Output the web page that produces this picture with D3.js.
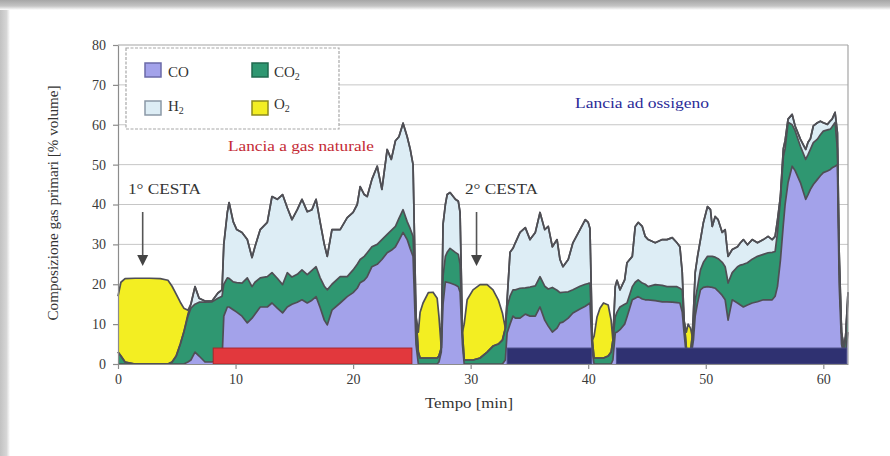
<!DOCTYPE html>
<html>
<head>
<meta charset="utf-8">
<script src="https://cdn.jsdelivr.net/npm/d3@7"></script>
<style>
  body { margin: 0; background: #fff; }
  svg { display: block; }
</style>
</head>
<body>
<svg id="chart" width="890" height="456"></svg>
<script>
// Time axis [min]
const time = [
  // first basket, natural-gas lance
  0,0.25,0.6,1.45,2.7,3.6,4.25,4.6,4.95,5.3,
  5.6,5.95,6.2,6.55,6.9,7.4,8.0,8.5,8.85,9.0,
  9.3,9.45,9.8,10.1,10.55,11.0,11.4,11.65,12.1,12.7,
  13.1,13.55,14.0,14.4,14.8,15.25,15.65,16.1,16.5,16.85,
  17.2,17.55,17.8,18.2,18.9,19.5,20.0,20.35,20.6,20.95,
  21.2,21.6,22.05,22.45,22.9,23.25,23.6,23.9,24.25,24.6,
  24.85,25.1,25.35,25.55,
  // intermediate
  25.7,25.95,26.4,26.8,27.15,27.3,27.5,27.65,27.85,28.0,
  28.25,28.7,28.95,29.1,29.3,29.45,
  // second basket
  29.7,30.2,30.8,31.4,31.9,32.35,32.7,32.95,33.1,33.35,
  33.6,33.8,34.2,34.65,35.05,35.5,35.9,36.3,36.6,36.95,
  37.35,37.6,37.85,38.3,38.7,39.3,39.75,40.0,40.15,40.35,
  40.5,
  // oxygen lance
  40.75,41.0,41.3,41.7,41.95,42.1,42.3,42.45,42.7,43.1,
  43.3,43.75,44.0,44.25,44.6,44.85,45.1,45.7,46.3,46.7,
  47.15,47.55,47.8,48.0,48.15,48.35,48.5,48.7,48.85,48.95,
  49.1,49.3,49.55,49.8,50.15,50.4,50.55,50.8,51.05,51.4,
  51.65,51.8,51.9,52.25,52.7,52.95,53.2,53.55,53.95,54.4,
  54.9,55.3,55.65,55.9,56.1,56.35,56.6,56.75,57.0,57.35,
  57.6,58.05,58.5,58.7,58.9,59.15,59.5,59.75,60.0,60.35,
  60.6,60.75,61.0,61.2,61.35,61.55,61.75,61.9,62.1
];

// Gas composition [% volume]
const co = [
  0,0,0,0,0,0,0,0,0,0,
  0,0.5,1,3,2,0.5,0.5,1,1,12,
  14.3,14.3,13.6,13,12,10.3,11.5,12.5,14.3,14.3,
  15.3,14,12.8,14.3,15,15.5,16.1,15.3,16,16.9,
  14.1,11,9.8,13.5,15.3,16.9,17.9,19,20.4,21,
  21.9,24.4,25,26.2,27.9,28.5,29.4,31,33,31.2,
  29,27,5,0,
  0,0,0,0,0,0.5,3,15,20.6,20.5,
  20.3,19.8,19.4,18,5,0,
  0,0,0,0,0,0,0,1,7.8,10,
  12,11.5,11.5,12.5,12,12,14.3,11,9.5,8,
  9,10.3,10.5,11.5,12.8,13.8,14.5,15,15.3,3,
  0,
  0,0,0,0,0,1,7.8,8,8.6,10,
  11.8,16.1,16.5,16.9,16.3,16.1,16.1,15.9,15.6,15.6,
  15.5,15.4,15.3,13,8,2,1,1,4,6,
  12,15.3,18.6,19.2,19.4,19.3,19.2,19,18.3,17.2,
  16.1,13,11,16.1,15.3,14.8,14.3,14.8,15.3,15.6,
  16.1,16.1,16.1,17,19.4,26,35,40,45.5,49.6,
  48.5,45.5,41.3,42.5,43.8,45,46.3,47.2,48,48.4,
  48.8,49.2,49.6,50,20,5,2,3,8
];

const co2 = [
  3,2,0.5,0,0,0,0,0.5,2,5,
  8,11.5,13,12,13.5,15,15.1,15.5,16,8,
  7.3,7.2,7,7.4,8.3,11.3,7.9,8,7.3,7.6,
  7.6,7.5,7.1,8.6,6.8,7,7.5,7.1,7.5,7.5,
  7.5,8.5,8.8,6.5,6.6,5,5.7,6,5.8,6,
  6,5,5,5,4.6,5,5.1,5.5,5.7,4.5,
  5,5,7,3,
  1.5,1.5,1.5,1.5,1.5,1.5,1,7,6.4,7.5,
  8.7,8.2,8.1,7,3,1,
  1,1,1.5,3,4.5,5,6,8,6.5,7,
  6.6,7.1,7.5,6.6,7.3,7.6,7.6,8.5,9.3,11.2,
  9.5,7.6,7.5,6.6,5.8,5.7,5.5,5.2,5,3,
  1.5,
  1.5,1.5,1.5,2,3,5,4,5,5.7,5,
  3.5,3.3,4,4.2,4,3.9,3.3,4,4.1,3.8,
  3.9,4,3.7,5.6,3,2,2,2,3,3.3,
  4,4.1,5,6.3,7.6,7.7,7.8,7.8,8.1,8.3,
  8.3,9,9.3,6.8,9.1,10,10.7,10.6,11,11.4,
  11.4,11.8,11.9,11.2,13.6,15.3,17,14,15.1,10.4,
  10,9.1,10,10,10,10.5,10.1,10.3,10.4,10.3,
  10.1,10.3,11,3.8,5,3,2,4,8
];

const h2 = [
  0,0,0,0,0,0,0,0,0,0,
  0,0.5,1,4.4,1,0.3,0.2,1.3,1.6,10,
  16.4,19,15.1,13.3,12.7,9.6,7.3,8.9,12.1,13.6,
  19.1,19.8,22.6,16.3,14.4,16.2,17.7,15.8,15.2,16.9,
  13.9,10.5,8.4,13.7,11.8,14.8,14.4,15,18.3,15.5,
  14.1,16.9,19.6,12.6,21.3,17.8,21.5,20.5,21.7,21.3,
  20,18,0,0,
  0,0,0,0,0,0,0,13,13,14.5,
  14,13.3,13.3,13,0,0,
  0,0,0,0,0,0,0,0,1.7,11,
  10.4,11.8,14,15.1,11.9,13.4,16.1,14.2,15.7,10.2,
  12.7,8.3,6.4,8.1,11.8,14.2,16.2,15.3,13.7,0,
  0,
  0,0,0,0,0,0,7.6,8,4.3,6.1,
  10.1,7.6,14,14.4,14.2,12,11.8,10.5,11.5,11.8,
  12.3,11,10.4,4.3,0,0,0,0,0,3.5,
  6.9,7.6,7.6,10,12.5,11.7,7.5,10.2,9.8,7.5,
  9.3,7.4,6.7,5.8,5,5.6,6.2,4.5,4.9,3.4,
  3.7,4.1,3.2,3.8,3,0.7,2,2,0.8,2.6,
  1.2,1.8,2.5,3.1,2.7,4.2,4.1,3.4,2.1,1.4,
  2.1,1.9,2.5,4.2,3,0,0,0,2
];

const o2 = [
  14,18.5,20.9,21.5,21.5,21.4,21,19,15.5,10.5,
  6,1,0,0,0,0,0,0,0,0,
  0,0,0,0,0,0,0,0,0,0,
  0,0,0,0,0,0,0,0,0,0,
  0,0,0,0,0,0,0,0,0,0,
  0,0,0,0,0,0,0,0,0,0,
  0,0,0,5,
  11.5,13.8,16.4,16.5,15,10,0,0,0,0,
  0,0,0,0,0,9,
  15.1,17.6,18.4,16.9,14.1,11.1,6.8,0,0,0,
  0,0,0,0,0,0,0,0,0,0,
  0,0,0,0,0,0,0,0,0,0,
  5.5,
  10.3,12.5,13.8,12.8,8,0,0,0,0,0,
  0,0,0,0,0,0,0,0,0,0,
  0,0,0,0,0,4,7,6,0,0,
  0,0,0,0,0,0,0,0,0,0,
  0,0,0,0,0,0,0,0,0,0,
  0,0,0,0,0,0,0,0,0,0,
  0,0,0,0,0,0,0,0,0,0,
  0,0,0,0,0,0,0,0,0
];

const gases = ["CO", "CO2", "H2", "O2"];
const gasColors = ["#a3a2ea", "#2f9771", "#ddedf5", "#f3ee22"];
const gasBorders = ["#6b6aa8", "#216a4f", "#8a98a6", "#8d8a1c"];

// Lance operating periods [min]
const lanceStart = [8.1, 33.1, 42.4];
const lanceEnd = [25.0, 40.3, 62.0];
const lanceType = ["gas", "oxygen", "oxygen"];

const yTicks = [0, 10, 20, 30, 40, 50, 60, 70, 80];
const xTicks = [0, 10, 20, 30, 40, 50, 60];

const serif = "'Liberation Serif', 'Times New Roman', serif";
const W = 890, H = 456;
const svg = d3.select("#chart");

// page card with soft shadow at top and left
const defs = svg.append("defs");
const gTop = defs.append("linearGradient").attr("id", "shTop").attr("x1", 0).attr("y1", 0).attr("x2", 0).attr("y2", 1);
gTop.append("stop").attr("offset", "0%").attr("stop-color", "#a6a6a6");
gTop.append("stop").attr("offset", "60%").attr("stop-color", "#c4c4c4");
gTop.append("stop").attr("offset", "100%").attr("stop-color", "#ffffff");
const gLeft = defs.append("linearGradient").attr("id", "shLeft").attr("x1", 0).attr("y1", 0).attr("x2", 1).attr("y2", 0);
gLeft.append("stop").attr("offset", "0%").attr("stop-color", "#c2c2c2");
gLeft.append("stop").attr("offset", "65%").attr("stop-color", "#d6d6d6");
gLeft.append("stop").attr("offset", "100%").attr("stop-color", "#ffffff");

svg.append("rect").attr("width", W).attr("height", H).attr("fill", "#fff");
svg.append("rect").attr("x", 0).attr("y", 0).attr("width", 10).attr("height", H).attr("fill", "url(#shLeft)");
svg.append("rect").attr("x", 0).attr("y", 0).attr("width", W).attr("height", 10).attr("fill", "url(#shTop)");

// scales
const x = d3.scaleLinear().domain([0, 62.1]).range([118, 848]);
const y = d3.scaleLinear().domain([0, 80]).range([364, 45]);

// horizontal grid
svg.append("g").selectAll("line")
  .data(yTicks.filter(v => v > 0 && v < 80))
  .join("line")
  .attr("x1", x(0)).attr("x2", x(62.1))
  .attr("y1", d => y(d)).attr("y2", d => y(d))
  .attr("stroke", "#c6c6c6").attr("stroke-width", 1);

// stacked composition
const rows = time.map((t, i) => ({ t, CO: co[i], CO2: co2[i], H2: h2[i], O2: o2[i] }));
const series = d3.stack().keys(gases)(rows);

const area = d3.area()
  .x(d => x(d.data.t))
  .y0(d => y(d[0]))
  .y1(d => y(d[1]));
const topLine = d3.line()
  .x(d => x(d.data.t))
  .y(d => y(d[1]));

const layers = svg.append("g");
layers.selectAll("path.area")
  .data(series)
  .join("path")
  .attr("class", "area")
  .attr("d", area)
  .attr("fill", (d, i) => gasColors[i]);
layers.selectAll("path.edge")
  .data(series)
  .join("path")
  .attr("class", "edge")
  .attr("d", topLine)
  .attr("fill", "none")
  .attr("stroke", "#4f4f55")
  .attr("stroke-width", 1.7)
  .attr("stroke-linejoin", "round");

// lance bars
const barTop = 4;
svg.append("g").selectAll("rect")
  .data(lanceStart.map((s, i) => ({ s, e: lanceEnd[i], type: lanceType[i] })))
  .join("rect")
  .attr("x", d => x(d.s))
  .attr("width", d => x(d.e) - x(d.s))
  .attr("y", y(barTop))
  .attr("height", y(0) - y(barTop))
  .attr("fill", d => d.type === "gas" ? "#e2383d" : "#2f3171")
  .attr("stroke", d => d.type === "gas" ? "#a8262c" : "#4a4c86")
  .attr("stroke-width", 1);

// frame
svg.append("line").attr("x1", x(0)).attr("x2", x(62.1)).attr("y1", y(80)).attr("y2", y(80))
  .attr("stroke", "#a4a4a4").attr("stroke-width", 1.2);
svg.append("line").attr("x1", x(62.1)).attr("x2", x(62.1)).attr("y1", y(80)).attr("y2", y(0))
  .attr("stroke", "#a4a4a4").attr("stroke-width", 1.2);

// axes
const yAxis = svg.append("g")
  .attr("transform", `translate(${x(0)},0)`)
  .call(d3.axisLeft(y).tickValues(yTicks).tickSize(5).tickSizeOuter(0).tickPadding(7));
const xAxis = svg.append("g")
  .attr("transform", `translate(0,${y(0)})`)
  .call(d3.axisBottom(x).tickValues(xTicks).tickSize(5).tickSizeOuter(0).tickPadding(5));
[yAxis, xAxis].forEach(g => {
  g.select(".domain").attr("stroke", "#8c8c8c").attr("stroke-width", 1.2);
  g.selectAll(".tick line").attr("stroke", "#8c8c8c").attr("stroke-width", 1.2);
  g.selectAll(".tick text")
    .attr("font-family", serif).attr("font-size", 14).attr("fill", "#3a3a3a");
});

// axis titles
svg.append("text")
  .attr("transform", "translate(58,203) rotate(-90)")
  .attr("text-anchor", "middle")
  .attr("font-family", serif).attr("font-size", 14).attr("fill", "#333")
  .attr("textLength", 235).attr("lengthAdjust", "spacingAndGlyphs")
  .text("Composizione gas primari [% volume]");
svg.append("text")
  .attr("x", 425).attr("y", 408)
  .attr("font-family", serif).attr("font-size", 15).attr("fill", "#333")
  .attr("textLength", 88).attr("lengthAdjust", "spacingAndGlyphs")
  .text("Tempo [min]");

// annotations
svg.append("text")
  .attr("x", 228).attr("y", 151)
  .attr("font-family", serif).attr("font-size", 14).attr("fill", "#c42a35")
  .attr("textLength", 146).attr("lengthAdjust", "spacingAndGlyphs")
  .text("Lancia a gas naturale");
svg.append("text")
  .attr("x", 575).attr("y", 108)
  .attr("font-family", serif).attr("font-size", 14).attr("fill", "#2b2c98")
  .attr("textLength", 134).attr("lengthAdjust", "spacingAndGlyphs")
  .text("Lancia ad ossigeno");

const baskets = [{ label: "1° CESTA", tx: 128, ax: 2.1 }, { label: "2° CESTA", tx: 465, ax: 30.5 }];
const bg = svg.append("g");
baskets.forEach(b => {
  bg.append("text")
    .attr("x", b.tx).attr("y", 194)
    .attr("font-family", serif).attr("font-size", 15).attr("fill", "#333")
    .attr("textLength", 73).attr("lengthAdjust", "spacingAndGlyphs")
    .text(b.label);
  const ax = x(b.ax);
  bg.append("line").attr("x1", ax).attr("x2", ax).attr("y1", 212).attr("y2", 257)
    .attr("stroke", "#555").attr("stroke-width", 1.6);
  bg.append("path")
    .attr("d", `M${ax - 5.5},255 L${ax + 5.5},255 L${ax},266 Z`)
    .attr("fill", "#444");
});

// legend
const lg = svg.append("g");
lg.append("rect")
  .attr("x", 126).attr("y", 48).attr("width", 213).attr("height", 81)
  .attr("fill", "#fff").attr("stroke", "#a8a8a8").attr("stroke-width", 1.2)
  .attr("stroke-dasharray", "3,1.5");
const legendPos = [
  { sx: 145, sy: 63, tx: 168, ty: 77 },
  { sx: 252, sy: 63, tx: 274, ty: 77 },
  { sx: 145, sy: 101, tx: 168, ty: 111 },
  { sx: 252, sy: 101, tx: 274, ty: 109 }
];
gases.forEach((g, i) => {
  const p = legendPos[i];
  lg.append("rect")
    .attr("x", p.sx).attr("y", p.sy).attr("width", 16).attr("height", 14)
    .attr("fill", gasColors[i]).attr("stroke", gasBorders[i]).attr("stroke-width", 1.5);
  const t = lg.append("text")
    .attr("x", p.tx).attr("y", p.ty)
    .attr("font-family", serif).attr("font-size", 15).attr("fill", "#333");
  const base = g.replace("2", "");
  t.append("tspan").text(base);
  if (g.endsWith("2")) {
    t.append("tspan").attr("font-size", 10).attr("dy", 3).text("2");
  }
});
</script>
</body>
</html>
